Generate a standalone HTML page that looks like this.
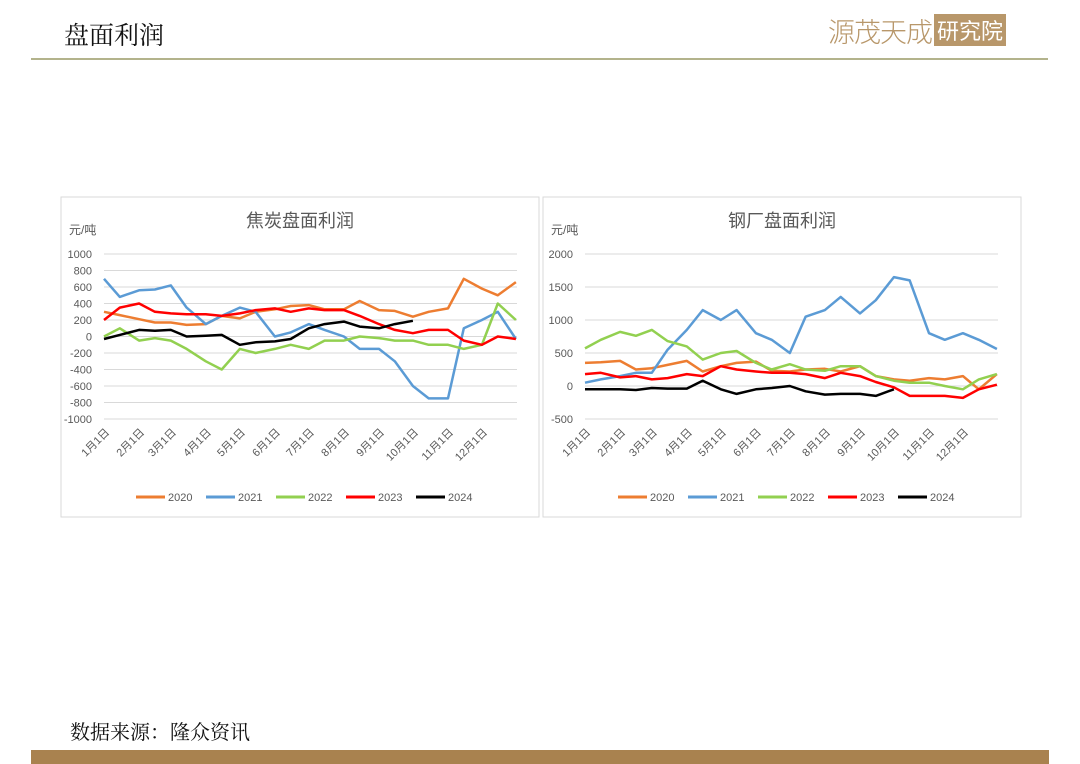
<!DOCTYPE html>
<html><head><meta charset="utf-8"><style>
body{margin:0;width:1080px;height:764px;background:#fff;position:relative;overflow:hidden;font-family:"Liberation Sans","Noto Sans CJK SC",sans-serif}
.abs{position:absolute}
</style></head><body>
<div class="abs" style="left:64px;top:16px;font-size:25px;font-family:'Liberation Serif','Noto Serif CJK SC',serif;color:#111">盘面利润</div>
<div class="abs" style="left:828px;top:13px;height:34px;display:flex;align-items:center">
<span style="font-size:27px;color:#b8976a;font-family:'Noto Sans CJK SC',sans-serif;font-weight:300;letter-spacing:-1px">源茂天成</span><span style="background:#b8976a;color:#fff;font-size:22px;padding:0 3px;margin-left:2px;font-family:'Noto Sans CJK SC',sans-serif">研究院</span></div>
<div class="abs" style="left:31px;top:58px;width:1017px;height:2px;background:#b3b38c"></div>
<div class="abs" style="left:70px;top:716px;font-size:20px;font-family:'Liberation Serif','Noto Serif CJK SC',serif;color:#111">数据来源：隆众资讯</div>
<div class="abs" style="left:31px;top:750px;width:1018px;height:14px;background:#a9824f"></div>
<svg class="abs" style="left:0;top:0" width="1080" height="764" id="svg"></svg>
<script>
const days=[0,14,31,45,59,73,90,104,120,134,151,165,181,195,212,226,243,257,273,287,304,318,334,348,364];
const monthLabels=["1月1日","2月1日","3月1日","4月1日","5月1日","6月1日","7月1日","8月1日","9月1日","10月1日","11月1日","12月1日"];
const monthDays=[0,31,59,90,120,151,181,212,243,273,304,334];
const years=["2020","2021","2022","2023","2024"];
const colors=["#ed7d31","#5b9bd5","#92d050","#ff0000","#000000"];
const coke2020=[300,260,210,170,170,140,150,250,220,300,330,370,380,330,330,430,320,310,240,300,340,700,580,500,660];
const coke2021=[700,480,560,570,620,350,150,250,350,300,0,50,150,80,0,-150,-150,-300,-600,-750,-750,100,200,300,-30];
const coke2022=[0,100,-50,-20,-50,-150,-300,-400,-150,-200,-150,-100,-150,-50,-50,0,-20,-50,-50,-100,-100,-150,-100,400,200];
const coke2023=[200,350,400,300,280,270,270,250,280,320,340,300,340,320,320,250,150,80,40,80,80,-50,-100,0,-30];
const coke2024=[-30,20,80,70,80,0,10,20,-100,-70,-60,-30,100,150,180,120,100,150,190,null,null,null,null,null,null];
const cokeTicks=[1000,800,600,400,200,0,-200,-400,-600,-800,-1000];
const steel2020=[350,360,380,250,270,320,380,220,300,350,370,230,220,250,260,220,300,150,100,80,120,100,150,-50,180];
const steel2021=[50,100,150,200,200,550,850,1150,1000,1150,800,700,500,1050,1150,1350,1100,1300,1650,1600,800,700,800,700,560];
const steel2022=[570,700,820,760,850,680,600,400,500,530,350,250,330,250,230,300,300,150,80,50,50,0,-50,100,180];
const steel2023=[180,200,130,150,100,120,180,150,300,250,220,200,200,180,120,200,150,60,-20,-150,-150,-150,-180,-50,20];
const steel2024=[-50,-50,-50,-60,-30,-40,-40,80,-50,-120,-50,-30,0,-80,-130,-120,-120,-150,-50,null,null,null,null,null,null];
const steelTicks=[2000,1500,1000,500,0,-500];
const svg=document.getElementById('svg');const NS='http://www.w3.org/2000/svg';
function mk(t,a,p){const e=document.createElementNS(NS,t);for(const k in a)e.setAttribute(k,a[k]);(p||svg).appendChild(e);return e;}
function chart(o){
 const g=mk('g',{});
 
 
 const fr=mk('rect',{x:o.bx,y:197,width:478,height:320,fill:'#fff',stroke:'#d9d9d9'},g);
 
 
 const max=o.ticks[0],min=o.ticks[o.ticks.length-1];
 const X=d=>o.x0+d/365*(o.x1-o.x0);
 const Y=v=>254+(max-v)/(max-min)*(419-254);
 const t=mk('text',{x:(o.bx+239),y:227,'font-size':18,fill:'#595959','text-anchor':'middle'},g);t.textContent=o.title;
 
 
 const u=mk('text',{x:o.bx+8,y:234,'font-size':12,fill:'#595959'},g);u.textContent='元/吨';
 
 
 o.ticks.forEach(v=>{
  const l=mk('line',{x1:o.x0,x2:o.x1,y1:Y(v),y2:Y(v),stroke:'#d9d9d9','stroke-width':1},g);
  
  
  const tx=mk('text',{x:o.x0-12,y:Y(v)+4,'font-size':11,fill:'#595959','text-anchor':'end'},g);tx.textContent=v;
  
  
 });
 monthDays.forEach((d,i)=>{
  const x=X(d)+6,y=Y(min)+14;
  const tx=mk('text',{x:x,y:y,'font-size':11,fill:'#595959','text-anchor':'end',transform:`rotate(-45 ${x} ${y})`},g);tx.textContent=monthLabels[i];
  
  
 });
 o.series.forEach((s,i)=>{
  let dstr='';let pen=false;
  s.forEach((v,j)=>{if(v===null){pen=false;return;}dstr+=(pen?'L':'M')+X(days[j]).toFixed(1)+','+Y(v).toFixed(1);pen=true;});
  const p=mk('path',{d:dstr,fill:'none',stroke:colors[i],'stroke-width':2.5,'stroke-linejoin':'round'},g);
  
  
  const lx=o.bx+75+i*70;
  const ll=mk('line',{x1:lx,x2:lx+29,y1:497,y2:497,stroke:colors[i],'stroke-width':3},g);
  
  
  const lt=mk('text',{x:lx+32,y:501,'font-size':11,fill:'#595959'},g);lt.textContent=years[i];
  
  
 });
}
chart({name:'coke-profit-chart',bx:61,x0:104,x1:517,title:'焦炭盘面利润',ticks:cokeTicks,series:[coke2020,coke2021,coke2022,coke2023,coke2024]});
chart({name:'steel-profit-chart',bx:543,x0:585,x1:998,title:'钢厂盘面利润',ticks:steelTicks,series:[steel2020,steel2021,steel2022,steel2023,steel2024]});
</script>
</body></html>
